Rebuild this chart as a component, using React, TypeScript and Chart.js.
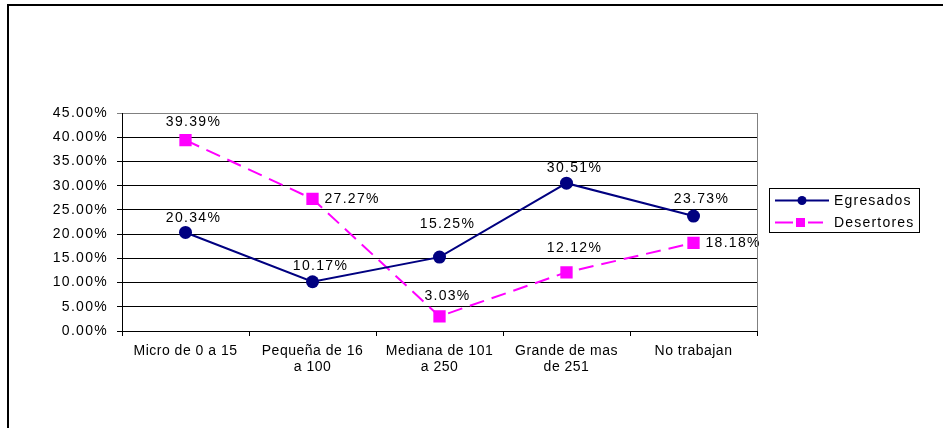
import { useEffect, useRef } from 'react';
import { Chart, registerables } from 'chart.js';

Chart.register(...registerables);

const categories: string[][] = [
  ['Micro de 0 a 15'],
  ['Pequeña de 16', 'a 100'],
  ['Mediana de 101', 'a 250'],
  ['Grande de mas', 'de 251'],
  ['No trabajan'],
];
const seriesNames = ['Egresados', 'Desertores'];
const egresados = [20.34, 10.17, 15.25, 30.51, 23.73];
const desertores = [39.39, 27.27, 3.03, 12.12, 18.18];
const yMin = 0;
const yMax = 45;
const yStep = 5;

// label placement (styling, not data)
const egresadosLabelPos = ['top', 'top', 'top', 'top', 'top'];
const desertoresLabelPos = ['top', 'right', 'top', 'top', 'right'];
const egresadosLabelLift = [14, 16, 33, 15, 17];
const desertoresLabelLift = [18, 0, 20, 24, 0];

const FONT = "'Liberation Sans', Arial, sans-serif";
const NAVY = '#000080';
const MAGENTA = '#FF00FF';

const fmt = (v: number) => v.toFixed(2) + '%';

const customPlugin = {
  id: 'custom',
  beforeDraw(chart: any) {
    const ctx = chart.ctx;
    (ctx as any).letterSpacing = '1.3px';
  },
  afterDatasetsDraw(chart: any) {
    const ctx = chart.ctx;
    const posSets = [egresadosLabelPos, desertoresLabelPos];
    const liftSets = [egresadosLabelLift, desertoresLabelLift];
    ctx.save();
    (ctx as any).letterSpacing = '1.3px';
    ctx.font = `14px ${FONT}`;
    ctx.fillStyle = '#000';
    chart.data.datasets.forEach((ds: any, di: number) => {
      const meta = chart.getDatasetMeta(di);
      meta.data.forEach((pt: any, i: number) => {
        const v = ds.data[i];
        const pos = posSets[di][i];
        ctx.textBaseline = 'middle';
        if (pos === 'right') {
          ctx.textAlign = 'left';
          ctx.fillText(fmt(v), pt.x + 12, pt.y);
        } else {
          ctx.textAlign = 'center';
          ctx.fillText(fmt(v), pt.x + 8, pt.y - liftSets[di][i]);
        }
      });
    });
    ctx.restore();
  },
  afterDraw(chart: any) {
    const ctx = chart.ctx;
    const area = chart.chartArea;
    const xs = chart.scales.x;
    ctx.save();
    // right plot border
    ctx.strokeStyle = '#808080';
    ctx.lineWidth = 1;
    ctx.beginPath();
    ctx.moveTo(Math.round(area.right) + 0.5, area.top);
    ctx.lineTo(Math.round(area.right) + 0.5, area.bottom);
    ctx.stroke();

    // category labels
    (ctx as any).letterSpacing = '0.5px';
    ctx.font = `14px ${FONT}`;
    ctx.fillStyle = '#000';
    ctx.textAlign = 'center';
    ctx.textBaseline = 'alphabetic';
    categories.forEach((lines, i) => {
      const x = xs.getPixelForValue(i);
      lines.forEach((ln, j) => {
        ctx.fillText(ln, x, area.bottom + 24 + j * 16);
      });
    });

    // legend
    const lx = 769, ly = 188, lw = 150, lh = 44;
    ctx.strokeStyle = '#000';
    ctx.lineWidth = 1;
    ctx.strokeRect(lx + 0.5, ly + 0.5, lw, lh);
    const y1 = 200.5;
    ctx.strokeStyle = NAVY;
    ctx.lineWidth = 2;
    ctx.beginPath();
    ctx.moveTo(775, y1);
    ctx.lineTo(829, y1);
    ctx.stroke();
    ctx.fillStyle = NAVY;
    ctx.beginPath();
    ctx.arc(802, y1, 4.5, 0, Math.PI * 2);
    ctx.fill();
    const y2 = 222.5;
    ctx.strokeStyle = MAGENTA;
    ctx.beginPath();
    ctx.moveTo(775, y2);
    ctx.lineTo(793, y2);
    ctx.moveTo(808, y2);
    ctx.lineTo(823, y2);
    ctx.stroke();
    ctx.fillStyle = MAGENTA;
    ctx.fillRect(796, y2 - 4.5, 9, 9);
    (ctx as any).letterSpacing = '1.2px';
    ctx.fillStyle = '#000';
    ctx.textAlign = 'left';
    ctx.textBaseline = 'alphabetic';
    ctx.font = `14px ${FONT}`;
    ctx.fillText(seriesNames[0], 834, 204.5);
    ctx.fillText(seriesNames[1], 834, 226.5);

    // outer border
    ctx.strokeStyle = '#000';
    ctx.lineWidth = 2;
    ctx.strokeRect(8, 5, 3000, 3000);
    ctx.restore();
  },
};

export default function App() {
  const ref = useRef<HTMLCanvasElement>(null);
  useEffect(() => {
    if (!ref.current) return;
    const chart = new Chart(ref.current, {
      type: 'line',
      data: {
        labels: categories.map((c) => c.join(' ')),
        datasets: [
          {
            label: seriesNames[0],
            data: egresados,
            borderColor: NAVY,
            backgroundColor: NAVY,
            borderWidth: 2,
            pointStyle: 'circle',
            pointRadius: 6.5,
            pointBackgroundColor: NAVY,
            pointBorderColor: NAVY,
            pointBorderWidth: 0,
            tension: 0,
          },
          {
            label: seriesNames[1],
            data: desertores,
            borderColor: MAGENTA,
            backgroundColor: MAGENTA,
            borderWidth: 2,
            borderDash: [15, 8],
            pointStyle: 'rect',
            pointRadius: 8.7,
            pointBackgroundColor: MAGENTA,
            pointBorderColor: MAGENTA,
            pointBorderWidth: 0,
            tension: 0,
          },
        ],
      },
      options: {
        responsive: false,
        animation: false,
        events: [],
        layout: { padding: { top: 113, right: 186, bottom: 0, left: 0 } },
        plugins: {
          legend: { display: false },
          tooltip: { enabled: false },
        },
        scales: {
          x: {
            type: 'category',
            offset: true,
            grid: {
              offset: true,
              drawOnChartArea: false,
              drawTicks: true,
              tickLength: 5,
              color: '#000',
            },
            border: { display: true, color: '#000' },
            ticks: { display: false },
            afterFit: (s: any) => {
              s.height = 97;
            },
          },
          y: {
            min: yMin,
            max: yMax,
            ticks: {
              stepSize: yStep,
              padding: 9,
              color: '#000',
              font: { family: FONT, size: 14 },
              callback: (v: any) => fmt(Number(v)),
            },
            grid: {
              tickLength: 5,
              color: (c: any) => (c.tick && c.tick.value === yMax ? '#808080' : '#000'),
            },
            border: { display: true, color: '#000' },
            afterFit: (s: any) => {
              s.width = 122;
            },
          },
        },
      },
      plugins: [customPlugin],
    } as any);
    return () => chart.destroy();
  }, []);
  return (
    <div style={{ position: 'absolute', left: 0, top: 0, width: 943, height: 428 }}>
      <canvas ref={ref} width={943} height={428} style={{ display: 'block' }} />
    </div>
  );
}
